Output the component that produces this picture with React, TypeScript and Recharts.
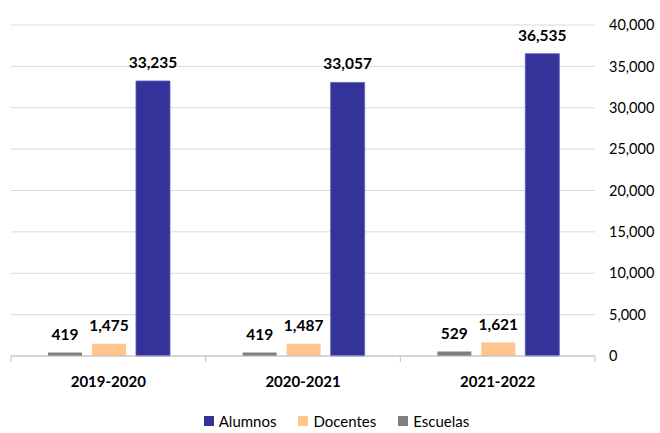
import React from "react"
import { BarChart, Bar, XAxis, YAxis, CartesianGrid, Legend, LabelList } from "recharts"

const CICLOS = ["2019-2020", "2020-2021", "2021-2022"]
const ESCUELAS = [419, 419, 529]
const DOCENTES = [1475, 1487, 1621]
const ALUMNOS = [33235, 33057, 36535]
const Y_TICKS = [0, 5000, 10000, 15000, 20000, 25000, 30000, 35000, 40000]

const FONT = "Lato, 'Open Sans', sans-serif"
const C_ALUMNOS = "#333399"
const C_DOCENTES = "#FFC58C"
const C_ESCUELAS = "#808080"

// orden de la leyenda (distinto al orden de las barras)
const SERIES = [
  { key: "alumnos", nombre: "Alumnos", color: C_ALUMNOS },
  { key: "docentes", nombre: "Docentes", color: C_DOCENTES },
  { key: "escuelas", nombre: "Escuelas", color: C_ESCUELAS },
]

const data = CICLOS.map((c, i) => ({
  ciclo: c,
  escuelas: ESCUELAS[i],
  docentes: DOCENTES[i],
  alumnos: ALUMNOS[i],
}))

const fmt = (v: number) => Number(v).toLocaleString("en-US")

function TickCiclo(props: any) {
  const { x, y, payload, index, visibleTicksCount } = props
  const half = payload?.offset ?? 97
  const last = index === (visibleTicksCount ?? CICLOS.length) - 1
  return (
    <g>
      <line x1={x - half} x2={x - half} y1={y} y2={y + 6} stroke="#BFBFBF" />
      {last && <line x1={x + half} x2={x + half} y1={y} y2={y + 6} stroke="#BFBFBF" />}
      <text x={x} y={y + 31} textAnchor="middle" fontSize={15} fontWeight={700} fill="#000" fontFamily={FONT}>
        {payload.value}
      </text>
    </g>
  )
}

function Leyenda() {
  return (
    <div style={{ display: "flex", justifyContent: "center", gap: 22, height: 20, lineHeight: "20px", fontSize: 15, fontFamily: FONT, color: "#000", paddingLeft: 2 }}>
      {SERIES.map((s) => (
        <span key={s.key} style={{ display: "flex", alignItems: "center" }}>
          <span style={{ display: "inline-block", width: 10, height: 10, background: s.color, marginRight: 5 }} />
          {s.nombre}
        </span>
      ))}
    </div>
  )
}

const labelStyle = { fontSize: 15.5, fontWeight: 700, fill: "#000", fontFamily: FONT }

export default function App() {
  return (
    <div style={{ position: "absolute", left: 0, top: 0, background: "#fff" }}>
      <BarChart
        width={660}
        height={433}
        data={data}
        margin={{ top: 25, right: 0, left: 11, bottom: 2 }}
        barGap={10}
        barCategoryGap="19%"
      >
        <CartesianGrid vertical={false} stroke="#D9D9D9" />
        <XAxis
          dataKey="ciclo"
          height={55}
          axisLine={{ stroke: "#BFBFBF" }}
          tickLine={false}
          tickSize={0}
          tickMargin={0}
          tick={<TickCiclo />}
          interval={0}
        />
        <YAxis
          orientation="right"
          width={65}
          domain={[0, 40000]}
          ticks={Y_TICKS}
          tickFormatter={fmt}
          axisLine={false}
          tickLine={false}
          tickSize={0}
          tickMargin={14}
          tick={{ fontSize: 14.5, fill: "#000", fontFamily: FONT }}
        />
        <Legend verticalAlign="bottom" content={<Leyenda />} />
        <Bar dataKey="escuelas" name="Escuelas" fill={C_ESCUELAS} isAnimationActive={false}>
          <LabelList dataKey="escuelas" position="top" offset={13} formatter={fmt} style={labelStyle} />
        </Bar>
        <Bar dataKey="docentes" name="Docentes" fill={C_DOCENTES} isAnimationActive={false}>
          <LabelList dataKey="docentes" position="top" offset={13} formatter={fmt} style={labelStyle} />
        </Bar>
        <Bar dataKey="alumnos" name="Alumnos" fill={C_ALUMNOS} stroke="#5c5cb8" strokeWidth={0.8} isAnimationActive={false}>
          <LabelList dataKey="alumnos" position="top" offset={13} formatter={fmt} style={labelStyle} />
        </Bar>
      </BarChart>
    </div>
  )
}
